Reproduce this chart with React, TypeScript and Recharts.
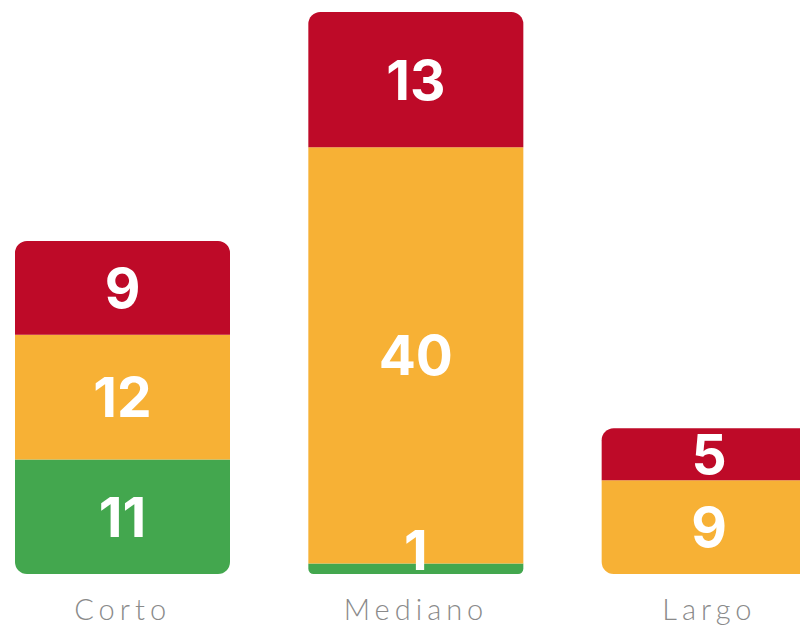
import { BarChart, Bar, XAxis, YAxis, LabelList, Cell } from "recharts";

const categories = ["Corto", "Mediano", "Largo"];
const greenValues = [11, 1, 0];
const yellowValues = [12, 40, 9];
const redValues = [9, 13, 5];

const data = categories.map((name, i) => ({
  name,
  green: greenValues[i],
  yellow: yellowValues[i],
  red: redValues[i],
}));

const RED = "#BE0A28";
const YELLOW = "#F7B135";
const GREEN = "#43A74E";
const R = 12;
const FONT = 55;

// label centered in its segment, but kept from dropping below the bar bottom
const SegmentLabel = (props: any) => {
  const { x, y, width, height, value } = props;
  if (!value) return null;
  const bottom = y + height;
  let cy = y + height / 2;
  const half = FONT * 0.36;
  if (cy + half > bottom - 4) cy = bottom - 4 - half;
  return (
    <text
      x={x + width / 2}
      y={cy}
      textAnchor="middle"
      dominantBaseline="central"
      fill="#FFFFFF"
      fontSize={FONT}
      fontWeight={700}
      fontFamily="Inter, 'Noto Sans', sans-serif"
    >
      {value}
    </text>
  );
};

const App = () => {
  return (
    <div
      style={{
        position: "fixed",
        left: 0,
        top: 0,
        width: 800,
        height: 627,
        overflow: "hidden",
        background: "#fff",
      }}
    >
      <div style={{ position: "absolute", left: -24, top: 0 }}>
        <BarChart
          width={880}
          height={627}
          data={data}
          margin={{ top: 12, right: 0, left: 0, bottom: 0 }}
        >
          <XAxis
            dataKey="name"
            axisLine={false}
            tickLine={false}
            height={53}
            tick={{
              fill: "#8A8A8A",
              fontSize: 29,
              fontWeight: 300,
              letterSpacing: 5,
              fontFamily: "Lato, 'Noto Sans', sans-serif",
            }}
            dy={17}
          />
          <YAxis hide domain={[0, 54]} />
          <Bar dataKey="green" stackId="a" fill={GREEN} barSize={215} isAnimationActive={false}>
            {data.map((_, i) => (
              <Cell key={i} radius={[0, 0, R, R] as any} />
            ))}
            <LabelList dataKey="green" content={SegmentLabel} />
          </Bar>
          <Bar dataKey="yellow" stackId="a" fill={YELLOW} barSize={215} isAnimationActive={false}>
            {data.map((d, i) => (
              <Cell key={i} radius={(d.green === 0 ? [0, 0, R, R] : [0, 0, 0, 0]) as any} />
            ))}
            <LabelList dataKey="yellow" content={SegmentLabel} />
          </Bar>
          <Bar dataKey="red" stackId="a" fill={RED} barSize={215} isAnimationActive={false}>
            {data.map((_, i) => (
              <Cell key={i} radius={[R, R, 0, 0] as any} />
            ))}
            <LabelList dataKey="red" content={SegmentLabel} />
          </Bar>
        </BarChart>
      </div>
    </div>
  );
};

export default App;
